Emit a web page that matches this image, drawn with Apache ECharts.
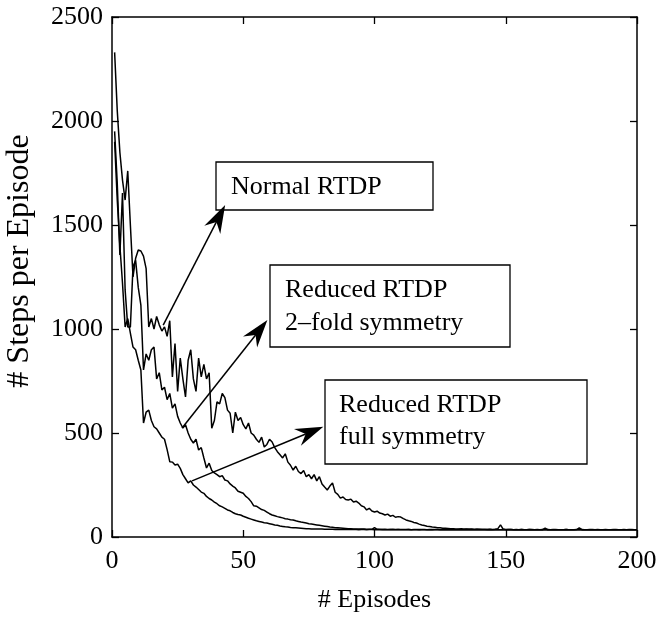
<!DOCTYPE html>
<html><head><meta charset="utf-8">
<script src="https://cdn.jsdelivr.net/npm/echarts@6/dist/echarts.min.js"></script>
<style>html,body{margin:0;padding:0;background:#fff}#c{width:658px;height:619px}</style>
</head><body><div id="c"></div>
<script>
// ---- data ----
const xTicks = [0, 50, 100, 150, 200];
const yTicks = [0, 500, 1000, 1500, 2000, 2500];

const normalRTDP = [
2330,2050,1850,1716,1620,1760,1500,1250,1340,1380,
1375,1350,1290,1010,1050,1000,1060,1020,990,1010,
965,1040,770,930,700,860,760,673,850,900,
760,700,860,770,830,760,790,523,560,650,
640,690,670,610,595,500,600,560,575,540,
520,548,500,490,470,455,480,433,445,470,
457,430,410,395,380,400,360,345,322,340,
315,305,320,290,300,280,300,270,290,255,
240,226,245,260,215,205,187,192,180,178,
182,168,172,163,150,145,130,138,125,120,
124,115,112,106,110,100,104,95,98,96,
88,82,78,75,70,67,62,58,55,52,
50,48,47,45,44,42,42,41,40,40,
39,39,40,38,39,38,38,37,38,37,
37,37,36,37,36,37,40,58,38,36,
36,36,35,36,35,36,35,35,36,35,
35,36,35,35,42,35,35,36,35,35,
35,35,36,35,35,35,36,44,35,35,
35,35,36,35,35,35,35,36,35,35,
35,36,35,35,35,35,36,35,35,35];

const twoFoldRTDP = [
1950,1700,1356,1654,1188,1010,1010,1300,1330,1200,
1115,803,880,850,900,913,760,790,707,720,
660,690,620,640,580,548,524,540,500,470,
452,470,418,430,380,332,355,320,308,300,
290,295,274,270,255,245,236,220,215,210,
195,185,170,150,148,140,132,128,120,112,
106,102,98,95,92,88,86,83,82,78,
75,72,70,67,64,62,60,58,56,54,
52,50,48,47,45,44,43,42,41,40,
40,39,39,38,38,38,37,37,37,45,
37,37,36,37,36,36,37,36,36,36,
36,36,36,35,36,36,35,36,36,35,
36,35,36,36,35,36,35,36,35,36,
35,36,35,35,36,35,36,35,35,36,
35,35,36,35,35,36,35,35,36,35,
35,36,35,35,35,36,35,35,35,36,
35,35,35,36,35,35,35,35,36,35,
35,35,36,35,35,35,35,35,36,35,
35,35,35,35,36,35,35,35,35,35,
36,35,35,35,35,35,35,36,35,35];

const fullSymRTDP = [
1900,1620,1400,1220,1010,1050,980,913,900,850,
803,548,600,610,560,530,520,500,480,470,
420,362,360,346,350,330,300,280,260,270,
250,240,228,216,210,195,185,178,168,160,
150,145,138,130,126,118,112,108,106,100,
95,90,86,82,78,75,72,69,67,64,
61,58,56,53,51,49,48,46,45,44,
43,42,41,40,40,39,39,38,38,38,
37,37,37,37,36,37,36,36,37,36,
36,36,36,35,36,36,35,36,36,35,
36,35,36,35,35,36,35,35,36,35,
35,35,36,35,35,35,36,35,35,35,
35,36,35,35,35,35,35,36,35,35,
35,35,35,35,36,35,35,35,35,35,
35,35,35,36,35,35,35,35,35,35,
36,35,35,35,35,35,35,35,36,35,
35,35,35,35,35,36,35,35,35,35,
35,35,35,35,35,35,35,36,35,35,
35,36,35,35,35,35,35,35,35,35,
35,35,35,35,36,35,35,35,35,35];

const seriesNames = ['Normal RTDP', 'Reduced RTDP 2-fold symmetry', 'Reduced RTDP full symmetry'];
const annotationLines = [['Normal RTDP'], ['Reduced RTDP', '2\u2013fold symmetry'], ['Reduced RTDP', 'full symmetry']];
// arrow start / tip in data coordinates [episode, steps]
const arrowFrom = [[19.5, 1019], [26.7, 524], [30.5, 270]];
const arrowTo   = [[43.1, 1596], [59.2, 1043], [80.5, 530]];

// ---- chart ----
const FONT = '"Liberation Serif", "Times New Roman", serif';
const chart = echarts.init(document.getElementById('c'), null, {renderer: 'canvas'});
const toPairs = arr => arr.map((v, i) => [i + 1, v]);
const axisLine = {show: true, onZero: false, lineStyle: {color: '#000', width: 1.5}};
const axisTick = {show: true, inside: true, length: 7, lineStyle: {color: '#000', width: 1.3}};
const plain = v => String(v);

chart.setOption({
  animation: false,
  backgroundColor: '#fff',
  grid: {left: 112, right: 21, top: 17, bottom: 82, containLabel: false, outerBoundsMode: 'none'},
  xAxis: [
    {type: 'value', min: 0, max: 200, interval: 50, position: 'bottom',
     axisLine, axisTick, splitLine: {show: false},
     axisLabel: {color: '#000', fontFamily: FONT, fontSize: 26, margin: 11, formatter: plain},
     name: '# Episodes', nameLocation: 'middle', nameGap: 50,
     nameTextStyle: {color: '#000', fontFamily: FONT, fontSize: 26}},
    {type: 'value', min: 0, max: 200, interval: 50, position: 'top',
     axisLine, axisTick, splitLine: {show: false}, axisLabel: {show: false}}
  ],
  yAxis: [
    {type: 'value', min: 0, max: 2500, interval: 500, position: 'left',
     axisLine, axisTick, splitLine: {show: false},
     axisLabel: {color: '#000', fontFamily: FONT, fontSize: 26, margin: 9, formatter: plain},
     name: '# Steps per Episode', nameLocation: 'middle', nameGap: 76, nameRotate: 90,
     nameTextStyle: {color: '#000', fontFamily: FONT, fontSize: 32, padding: [0, 0, 0, 32]}},
    {type: 'value', min: 0, max: 2500, interval: 500, position: 'right',
     axisLine, axisTick, splitLine: {show: false}, axisLabel: {show: false}}
  ],
  series: [normalRTDP, twoFoldRTDP, fullSymRTDP].map((d, k) => ({
    name: seriesNames[k], type: 'line', data: toPairs(d), showSymbol: false, symbol: 'none',
    lineStyle: {color: '#000', width: 1.5}, z: 3
  }))
});

// annotation boxes (pixel layout) + arrows (data coordinates)
const boxes = [
  {x: 216, y: 162, w: 217, h: 48, tx: 231, ty: [187]},
  {x: 270, y: 265, w: 240, h: 82, tx: 285, ty: [290, 323]},
  {x: 325, y: 380, w: 262, h: 84, tx: 339, ty: [405, 437]}
];
const graphics = [];
boxes.forEach((b, k) => {
  graphics.push({type: 'rect', shape: {x: b.x, y: b.y, width: b.w, height: b.h},
    style: {fill: '#fff', stroke: '#000', lineWidth: 1.3}, z: 10});
  annotationLines[k].forEach((t, j) => {
    graphics.push({type: 'text', x: b.tx, y: b.ty[j], z: 11,
      style: {text: t, font: '26px ' + FONT, fill: '#000', textVerticalAlign: 'middle', verticalAlign: 'middle'}});
  });
});
arrowFrom.forEach((f, k) => {
  const p0 = chart.convertToPixel({gridIndex: 0}, f);
  const p1 = chart.convertToPixel({gridIndex: 0}, arrowTo[k]);
  const dx = p1[0] - p0[0], dy = p1[1] - p0[1];
  const L = Math.hypot(dx, dy), ux = dx / L, uy = dy / L, nx = -uy, ny = ux;
  const hl = 28, hw = 9, notch = 19;
  const base = [p1[0] - ux * hl, p1[1] - uy * hl];
  const nb = [p1[0] - ux * notch, p1[1] - uy * notch];
  graphics.push({type: 'line', shape: {x1: p0[0], y1: p0[1], x2: nb[0], y2: nb[1]},
    style: {stroke: '#000', lineWidth: 1.5}, z: 12});
  graphics.push({type: 'polygon', shape: {points: [
    p1, [base[0] + nx * hw, base[1] + ny * hw], nb, [base[0] - nx * hw, base[1] - ny * hw]]},
    style: {fill: '#000'}, z: 12});
});
chart.setOption({graphic: graphics});
</script>
</body></html>
